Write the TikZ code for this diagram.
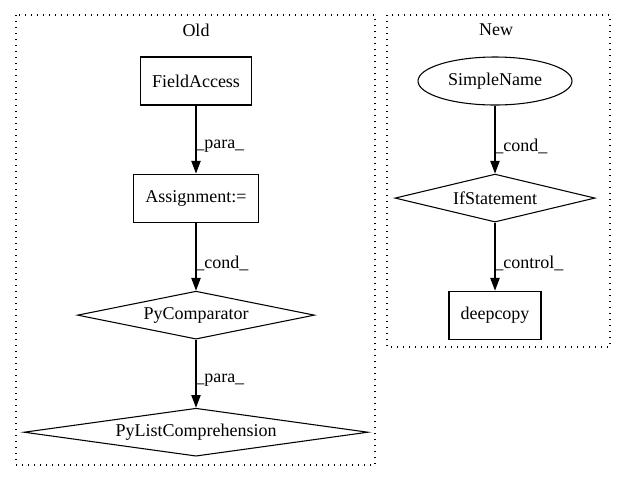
\documentclass[tikz,border=0pt]{standalone}
\usepackage{fontspec}
\setmainfont{Liberation Serif}
\usetikzlibrary{positioning,shapes.geometric,arrows.meta}

\begin{document}
\begin{tikzpicture}[x=0.75pt,y=-0.75pt,
        font=\fontsize{13.5}{16}\selectfont,
        node distance=51pt,
        box/.style={draw,rectangle,line width=0.8pt,inner sep=0pt,minimum height=36pt},
        cond/.style={draw,diamond,line width=0.8pt,inner sep=0pt,shape aspect=5,minimum height=36pt},
        oval/.style={draw,ellipse,line width=0.8pt,inner sep=0pt,minimum height=36pt},
        flow/.style={-{Triangle[length=9.5pt,width=7pt]},line width=0.9pt},
        lbl/.style={anchor=west,inner sep=0pt,xshift=-1pt},
        cluster/.style={draw,dash pattern=on 1pt off 3.5pt,line width=0.9pt}]
        \useasboundingbox (0,0) rectangle (621,480);
        % clusters
        \draw[cluster] (16,15) rectangle (375,465);
        \draw[cluster] (387,15) rectangle (610,347);
        \node (old) at (196,30) {Old};
        \node (new) at (496,30) {New};
        % old
        \node[box,minimum width=83.25pt] (fa) at (196,81) {FieldAccess};
        \node[box,minimum width=93.75pt,below=of fa] (asg) {Assignment:=};
        \node[cond,minimum width=177.75pt,below=of asg] (cmp) {PyComparator};
        \node[cond,shape aspect=7,minimum width=258pt,below=of cmp] (lc) {PyListComprehension};
        % new
        \node[oval,minimum width=115.5pt] (sn) at (495,81) {SimpleName};
        \node[cond,minimum width=150pt,below=of sn] (ifs) {IfStatement};
        \node[box,minimum width=69pt,below=of ifs] (dc) {deepcopy};
        \draw[flow] (fa) -- node[lbl,pos=0.6] {\_para\_} (asg);
        \draw[flow] (asg) -- node[lbl,pos=0.6] {\_cond\_} (cmp);
        \draw[flow] (cmp) -- node[lbl,pos=0.6] {\_para\_} (lc);
        \draw[flow] (sn) -- node[lbl,pos=0.6] {\_cond\_} (ifs);
        \draw[flow] (ifs) -- node[lbl,pos=0.6] {\_control\_} (dc);
\end{tikzpicture}
\end{document}
